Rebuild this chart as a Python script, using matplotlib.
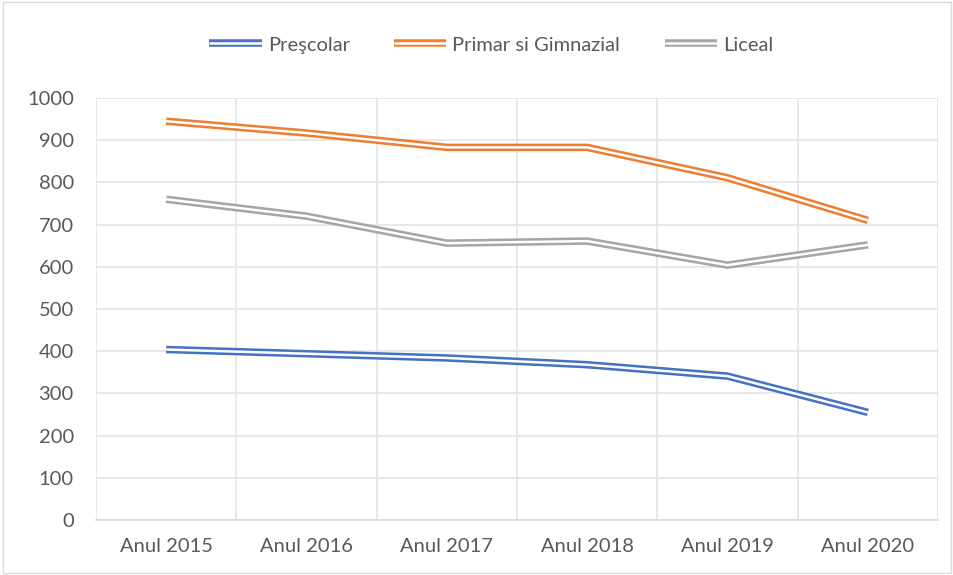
import matplotlib
matplotlib.use("Agg")
import matplotlib.pyplot as plt
from matplotlib.legend_handler import HandlerTuple
from matplotlib.patches import Rectangle

years = ["Anul 2015", "Anul 2016", "Anul 2017", "Anul 2018", "Anul 2019", "Anul 2020"]
prescolar = [404, 394, 384, 368, 341, 255]
primar = [945, 917, 883, 883, 811, 710]
liceal = [760, 720, 656, 661, 604, 652]

series = [
    ("Preşcolar", prescolar, "#4472c4"),
    ("Primar si Gimnazial", primar, "#ed7d31"),
    ("Liceal", liceal, "#a5a5a5"),
]

plt.rcParams["font.family"] = ["Lato", "DejaVu Sans"]
text_color = "#595959"
grid_color = "#e4e4e4"

fig = plt.figure(figsize=(9.54, 5.75), dpi=100)
ax = fig.add_axes([96 / 954, 55 / 575, 842 / 954, 422 / 575])

x = list(range(len(years)))
handles = []
for name, vals, color in series:
    outer, = ax.plot(x, vals, color=color, lw=5.4, solid_joinstyle="miter",
                     solid_capstyle="butt", zorder=3)
    inner, = ax.plot(x, vals, color="white", lw=1.8, solid_joinstyle="miter",
                     solid_capstyle="butt", zorder=4)
    handles.append(((outer, inner), name))

ax.set_xlim(-0.5, len(years) - 0.5)
ax.set_ylim(0, 1000)
ax.set_yticks(range(0, 1001, 100))
ax.set_xticks(x)
ax.set_xticklabels(years)
ax.set_xticks([i + 0.5 for i in range(-1, len(years))], minor=True)
ax.tick_params(axis="both", which="both", length=0, labelsize=14.5, colors=text_color)
ax.tick_params(axis="x", pad=13)
ax.tick_params(axis="y", pad=16)
ax.grid(axis="y", color=grid_color, lw=1.2)
ax.grid(axis="x", which="minor", color=grid_color, lw=1.2)
ax.set_axisbelow(True)
for side in ["top", "right", "left"]:
    ax.spines[side].set_visible(False)
ax.spines["bottom"].set_color("#d9d9d9")
ax.spines["bottom"].set_linewidth(1.2)

fig.legend(
    [h for h, _ in handles],
    [n for _, n in handles],
    handler_map={tuple: HandlerTuple(ndivide=1, pad=0)},
    loc="center",
    bbox_to_anchor=(0.515, 1 - 45 / 575),
    ncol=3,
    frameon=False,
    fontsize=14.5,
    labelcolor=text_color,
    handlelength=2.6,
    handletextpad=0.3,
    columnspacing=2.2,
)

fig.patches.append(Rectangle((3 / 954, 2 / 575), 948 / 954, 571 / 575, transform=fig.transFigure,
                             fill=False, edgecolor="#d9d9d9", lw=1.0))

fig.savefig("out.png", dpi=100, facecolor="white")
